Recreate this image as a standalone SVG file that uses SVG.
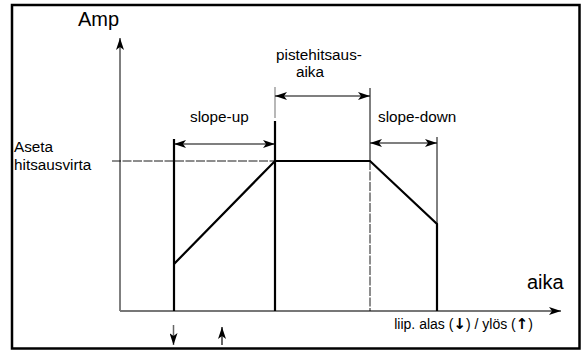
<svg xmlns="http://www.w3.org/2000/svg" width="581" height="350" viewBox="0 0 581 350">
<defs>
<style>
text{font-family:"Liberation Sans",Arial,sans-serif;fill:#000}
.lbl{font-size:15.3px}
.big{font-size:20px}
.arr{font-family:"DejaVu Sans",sans-serif;font-size:15px;font-weight:bold}
.thin{stroke:#000;stroke-width:1;fill:none}
.thick{stroke:#000;stroke-width:2.2;fill:none}
.dash{stroke:#000;stroke-width:0.9;stroke-dasharray:9 1.5;fill:none}
.dim{stroke:#000;stroke-width:1.2;fill:none;marker-start:url(#ah);marker-end:url(#ah)}
</style>
<marker id="ah" viewBox="0 0 12 8" refX="12" refY="4" markerWidth="12" markerHeight="8" markerUnits="userSpaceOnUse" orient="auto-start-reverse">
<path d="M0,0 L12,4 L0,8 L3,4 z" fill="#000"/>
</marker>
</defs>
<rect x="12" y="5" width="567.5" height="343.5" fill="#fff" stroke="#000" stroke-width="2.5"/>
<g id="axes">
<line x1="120" y1="311" x2="120" y2="38" class="thin" marker-end="url(#ah)"/>
<line x1="120" y1="311" x2="561" y2="311" stroke="#777" stroke-width="2" marker-end="url(#ah)"/>
<text x="78" y="26" class="big">Amp</text>
<text x="527" y="289" class="big">aika</text>
</g>
<g id="guides">
<line x1="112" y1="161" x2="275" y2="161" class="dash"/>
<line x1="275" y1="87" x2="275" y2="118" stroke="#888" stroke-width="1.2" fill="none"/>
<line x1="370" y1="88" x2="370" y2="161" class="thin"/>
<line x1="370" y1="161" x2="370" y2="311" class="dash"/>
<line x1="437" y1="137" x2="437" y2="224" class="thin"/>
</g>
<g id="profile">
<path d="M174,311 L174,139" class="thick"/>
<path d="M275,121 L275,311" class="thick"/>
<path d="M174,264 L275,161 L370,161 L437,224 L437,311" class="thick"/>
</g>
<g id="connectors">
<line x1="275" y1="96" x2="370" y2="96" class="dim"/>
<line x1="174" y1="144" x2="275" y2="144" class="dim"/>
<line x1="370" y1="143" x2="437" y2="143" class="dim"/>
<line x1="173.5" y1="325" x2="173.5" y2="345" stroke="#666" stroke-width="1.5" marker-end="url(#ah)"/>
<line x1="222" y1="345" x2="222" y2="327" stroke="#000" stroke-width="1.2" marker-end="url(#ah)"/>
</g>
<g id="labels">
<text x="276" y="60" class="lbl">pistehitsaus-</text>
<text x="310" y="77" class="lbl" text-anchor="middle">aika</text>
<text x="190" y="122" class="lbl">slope-up</text>
<text x="378" y="122" class="lbl">slope-down</text>
<text x="14" y="152" class="lbl">Aseta</text>
<text x="14" y="170" class="lbl">hitsausvirta</text>
<text x="533" y="329" font-size="14" text-anchor="end">liip. alas  (<tspan class="arr">↓</tspan>) / ylös (<tspan class="arr">↑</tspan>)</text>
</g>
</svg>
